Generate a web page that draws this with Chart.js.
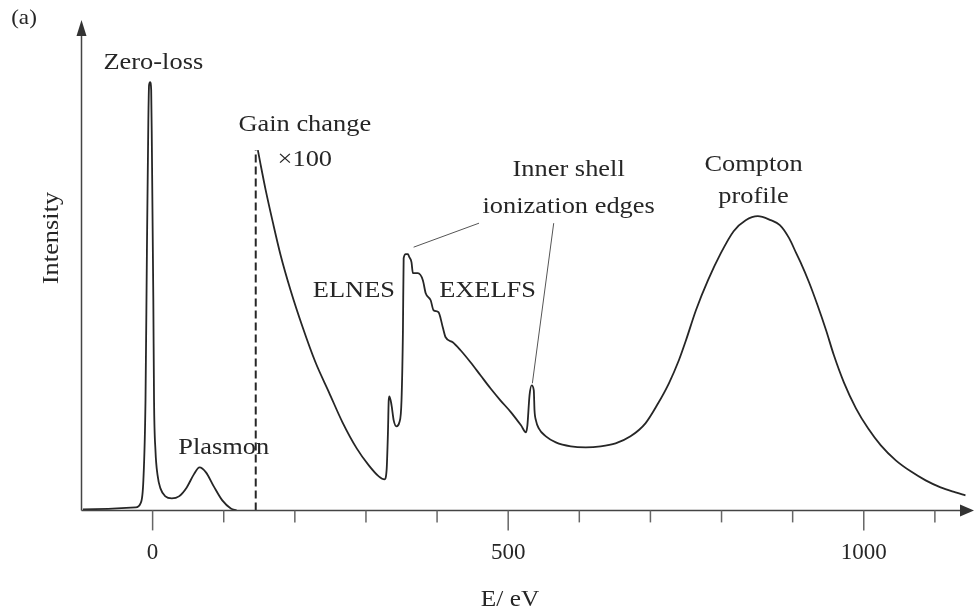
<!DOCTYPE html>
<html>
<head>
<meta charset="utf-8">
<script src="https://cdn.jsdelivr.net/npm/chart.js@4.4.1/dist/chart.umd.min.js"></script>
<style>
html, body { margin: 0; padding: 0; background: #fff; }
</style>
</head>
<body>
<canvas id="myChart" width="975" height="616"></canvas>
<script>
// spectrum at gain x1 (zero-loss + plasmon)
const lowE = [-98, -24, -17, -13, -10, -8, -6, -5, -3.5, -2, -1, 1, 2, 4, 7, 11, 18, 27, 37, 48, 58, 66, 75, 86, 98, 110, 118];
const lowI = [1, 3, 7, 30, 110, 260, 390, 425, 428, 420, 360, 210, 110, 60, 35, 22, 14, 12, 14, 23, 36, 43, 38, 24, 10, 2, 0];

// spectrum at gain x100 (core losses + Compton profile)
const highE = [148, 152, 159, 169, 180, 194, 211, 229, 248, 267, 287, 304, 318, 326,
    329, 331, 332, 333, 336, 339, 343, 347, 350, 352, 353, 356, 359, 361, 364, 366, 373, 380, 384, 391, 395, 402, 408, 412, 422,
    433, 447, 461, 475, 489, 504, 518, 525,
    527, 530, 533, 536, 537, 539, 543, 553, 567, 588, 609, 630, 651, 672, 693,
    710, 726, 740, 750, 764, 781, 799, 817, 834, 851, 869, 882, 895, 905, 911, 923, 935, 947, 958, 972, 989, 1006, 1024, 1045, 1066, 1087, 1108, 1129, 1143];
const highI = [360, 345, 320, 288, 255, 220, 183, 148, 118, 88, 62, 45, 34, 31,
    40, 80, 110, 114, 105, 90, 84, 88, 110, 180, 252, 256, 256, 253, 248, 237, 237, 230, 217, 210, 200, 198, 183, 173, 168,
    160, 148, 135, 122, 110, 98, 85, 78,
    85, 115, 125, 120, 100, 90, 82, 74, 68, 64, 63, 64, 67, 74, 87,
    106, 127, 150, 170, 200, 230, 257, 279, 290, 294, 290, 285, 272, 257, 248, 228, 205, 180, 155, 128, 102, 82, 65, 50, 39, 30, 23, 18, 15];

// gain change marker
const gainE = [145, 145];
const gainI = [0, 360];

const xLabels = [0, 500, 1000];

const serif = '"Liberation Serif", "DejaVu Serif", serif';
const ink = '#262626';

// text labels, placed in data units
const notes = [
    { t: 'Zero-loss', e: 1, i: 447 },
    { t: 'Gain change', e: 214, i: 385 },
    { t: '\u00d7100', e: 214, i: 350 },
    { t: 'Plasmon', e: 100, i: 63 },
    { t: 'ELNES', e: 283, i: 220 },
    { t: 'EXELFS', e: 471, i: 220 },
    { t: 'Inner shell', e: 585, i: 340 },
    { t: 'ionization edges', e: 585, i: 303 },
    { t: 'Compton', e: 845, i: 345 },
    { t: 'profile', e: 845, i: 313 }
];
const leaders = [
    [459, 287, 367, 263],
    [564, 287, 534, 127]
];

function pts(xs, ys) {
    return xs.map((v, k) => ({ x: v, y: ys[k] }));
}

function stretchText(ctx, t, x, y, rot) {
    ctx.save();
    ctx.translate(x, y);
    if (rot) ctx.rotate(rot);
    ctx.scale(1.1, 1);
    ctx.fillText(t, 0, 0);
    ctx.restore();
}

const decor = {
    id: 'decor',
    afterDraw(chart) {
        const ctx = chart.ctx;
        const xs = chart.scales.x;
        const ys = chart.scales.y;
        const a = chart.chartArea;
        ctx.save();
        ctx.strokeStyle = '#444';
        ctx.fillStyle = '#333';
        ctx.lineWidth = 1.5;

        // axes with arrows
        ctx.beginPath();
        ctx.moveTo(a.left, a.bottom);
        ctx.lineTo(a.right - 6, a.bottom);
        ctx.moveTo(a.left, a.bottom);
        ctx.lineTo(a.left, a.top + 8);
        ctx.stroke();
        ctx.beginPath();
        ctx.moveTo(a.right, a.bottom);
        ctx.lineTo(a.right - 14, a.bottom - 6);
        ctx.lineTo(a.right - 14, a.bottom + 6);
        ctx.closePath();
        ctx.fill();
        ctx.beginPath();
        ctx.moveTo(a.left, a.top);
        ctx.lineTo(a.left - 5, a.top + 16);
        ctx.lineTo(a.left + 5, a.top + 16);
        ctx.closePath();
        ctx.fill();

        // tick marks below the axis
        ctx.strokeStyle = '#666';
        xs.ticks.forEach(tk => {
            if (tk.value < 0 || tk.value % 100 !== 0) return;
            const px = xs.getPixelForValue(tk.value);
            const len = tk.value % 500 === 0 ? 20 : 12;
            ctx.beginPath();
            ctx.moveTo(px, a.bottom);
            ctx.lineTo(px, a.bottom + len);
            ctx.stroke();
        });

        // leader lines
        ctx.strokeStyle = '#555';
        ctx.lineWidth = 1;
        leaders.forEach(l => {
            ctx.beginPath();
            ctx.moveTo(xs.getPixelForValue(l[0]), ys.getPixelForValue(l[1]));
            ctx.lineTo(xs.getPixelForValue(l[2]), ys.getPixelForValue(l[3]));
            ctx.stroke();
        });

        // labels
        ctx.fillStyle = ink;
        ctx.textAlign = 'center';
        ctx.textBaseline = 'middle';
        ctx.font = '24px ' + serif;
        notes.forEach(n => {
            stretchText(ctx, n.t, xs.getPixelForValue(n.e), ys.getPixelForValue(n.i));
        });
        stretchText(ctx, 'Intensity', 52, 238, -Math.PI / 2);
        ctx.font = '23px ' + serif;
        stretchText(ctx, 'E/ eV', 510, 600);
        ctx.font = '21px ' + serif;
        stretchText(ctx, '(a)', 24, 18);
        ctx.restore();
    }
};

const ctx = document.getElementById('myChart').getContext('2d');
const myChart = new Chart(ctx, {
    type: 'line',
    data: {
        datasets: [{
            data: pts(lowE, lowI),
            borderColor: ink,
            borderWidth: 1.8,
            pointRadius: 0,
            cubicInterpolationMode: 'monotone'
        }, {
            data: pts(highE, highI),
            borderColor: ink,
            borderWidth: 1.8,
            pointRadius: 0,
            cubicInterpolationMode: 'monotone'
        }, {
            data: pts(gainE, gainI),
            borderColor: ink,
            borderWidth: 2,
            borderDash: [8, 4],
            pointRadius: 0
        }]
    },
    options: {
        responsive: false,
        animation: false,
        devicePixelRatio: 1,
        layout: { padding: { left: 81.5, right: 1, top: 20, bottom: 20 } },
        plugins: { legend: { display: false }, tooltip: { enabled: false } },
        scales: {
            x: {
                type: 'linear',
                min: -100,
                max: 1155,
                grid: { display: false, drawTicks: false },
                border: { display: false },
                ticks: {
                    stepSize: 100,
                    includeBounds: false,
                    autoSkip: false,
                    maxRotation: 0,
                    padding: 29,
                    color: ink,
                    font: { family: serif, size: 23 },
                    callback: v => xLabels.includes(v) ? String(v) : ''
                }
            },
            y: { display: false, min: 0, max: 490 }
        }
    },
    plugins: [decor]
});
</script>
</body>
</html>
